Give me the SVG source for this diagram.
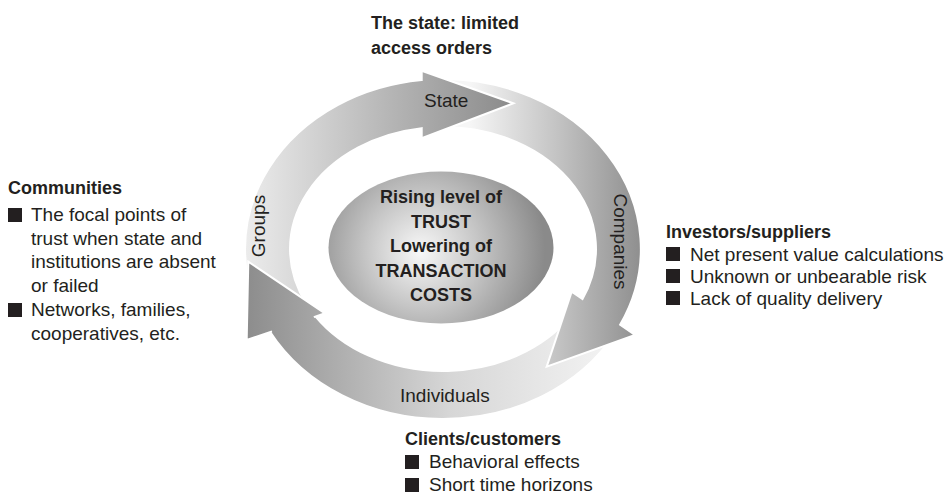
<svg xmlns="http://www.w3.org/2000/svg" width="951" height="503" viewBox="0 0 951 503">
<style>
text{font-family:"Liberation Sans",Arial,sans-serif;fill:#231f20;font-size:19px}
.b{font-weight:bold;font-size:18px}
.c{text-anchor:middle}
.arr{stroke:#fff;stroke-width:2;stroke-linejoin:miter}
.sq{fill:#231f20}
</style>
<defs>
<linearGradient id="gState" gradientUnits="userSpaceOnUse" x1="245" y1="0" x2="515" y2="0">
<stop offset="0" stop-color="#ececec"/><stop offset="0.55" stop-color="#b4b4b4"/><stop offset="1" stop-color="#8a8a8a"/>
</linearGradient>
<linearGradient id="gComp" gradientUnits="userSpaceOnUse" x1="470" y1="0" x2="642" y2="0">
<stop offset="0" stop-color="#f6f6f6"/><stop offset="0.5" stop-color="#c4c4c4"/><stop offset="1" stop-color="#8e8e8e"/>
</linearGradient>
<linearGradient id="gInd" gradientUnits="userSpaceOnUse" x1="615" y1="0" x2="245" y2="0">
<stop offset="0" stop-color="#f4f4f4"/><stop offset="0.45" stop-color="#d6d6d6"/><stop offset="1" stop-color="#8c8c8c"/>
</linearGradient>
<radialGradient id="gCenter" gradientUnits="userSpaceOnUse" cx="425" cy="250" r="120" fx="420" fy="252">
<stop offset="0" stop-color="#f8f8f8"/><stop offset="0.45" stop-color="#c8c8c8"/><stop offset="1" stop-color="#8a8a8a"/>
</radialGradient>
</defs>

<g id="connectors">
<path id="arrow-individuals" class="arr" fill="url(#gInd)" d="M614.5 334 A198 170 0 0 1 270.2 332 L246.7 340 L248.3 261.7 L325 313.3 L315.6 316.5 A153 122 0 0 0 575.5 310 Z"/>
<path id="arrow-companies" class="arr" fill="url(#gComp)" d="M430 79.4 A198 170 0 0 1 620.1 324.8 L635 335 L546.7 366.7 L571.7 291.7 L582.5 299.1 A153 122 0 0 0 433 127.3 Z"/>
<path id="arrow-state" class="arr" fill="url(#gState)" d="M266.6 326.2 A198 170 0 0 1 421.7 80 L421.7 70.7 L513.3 103.3 L421.7 138.3 L421.7 128.2 A153 122 0 0 0 306.7 304.4 Z"/>
<path id="head-individuals" fill="url(#gInd)" d="M270.2 332 L246.7 340 L248.3 261.7 L325 313.3 L315.6 316.5 Z"/>
<path class="arr" fill="none" d="M272 331.4 L246.7 340 L248.3 261.7 L325 313.3 L313.8 317.1"/>
</g>

<g id="center">
<ellipse cx="441" cy="247.5" rx="112.5" ry="76" fill="url(#gCenter)"/>
<text class="b c" x="441" y="203">Rising level of</text>
<text class="b c" x="441" y="228">TRUST</text>
<text class="b c" x="441" y="252">Lowering of</text>
<text class="b c" x="441" y="277">TRANSACTION</text>
<text class="b c" x="441" y="301">COSTS</text>
</g>

<g id="label-state"><text x="424" y="107">State</text></g>
<g id="label-companies"><text class="c" transform="translate(614,241.5) rotate(90)">Companies</text></g>
<g id="label-individuals"><text x="400" y="402">Individuals</text></g>
<g id="label-groups"><text class="c" transform="translate(265,226) rotate(-90)">Groups</text></g>

<g id="state-note">
<text class="b" x="371" y="29">The state: limited</text>
<text class="b" x="371" y="54">access orders</text>
</g>

<g id="communities">
<text class="b" x="8" y="194">Communities</text>
<rect class="sq" x="8" y="208" width="14" height="14"/>
<text x="31" y="221">The focal points of</text>
<text x="31" y="245">trust when state and</text>
<text x="31" y="268">institutions are absent</text>
<text x="31" y="292">or failed</text>
<rect class="sq" x="8" y="303" width="14" height="14"/>
<text x="31" y="316">Networks, families,</text>
<text x="31" y="340">cooperatives, etc.</text>
</g>

<g id="investors">
<text class="b" x="666" y="238">Investors/suppliers</text>
<rect class="sq" x="666" y="247" width="14" height="14"/>
<text x="690" y="261">Net present value calculations</text>
<rect class="sq" x="666" y="269" width="14" height="14"/>
<text x="690" y="283">Unknown or unbearable risk</text>
<rect class="sq" x="666" y="291" width="14" height="14"/>
<text x="690" y="305">Lack of quality delivery</text>
</g>

<g id="clients">
<text class="b" x="405" y="445">Clients/customers</text>
<rect class="sq" x="405" y="455" width="14" height="14"/>
<text x="429" y="468">Behavioral effects</text>
<rect class="sq" x="405" y="478" width="14" height="14"/>
<text x="429" y="491">Short time horizons</text>
</g>
</svg>
